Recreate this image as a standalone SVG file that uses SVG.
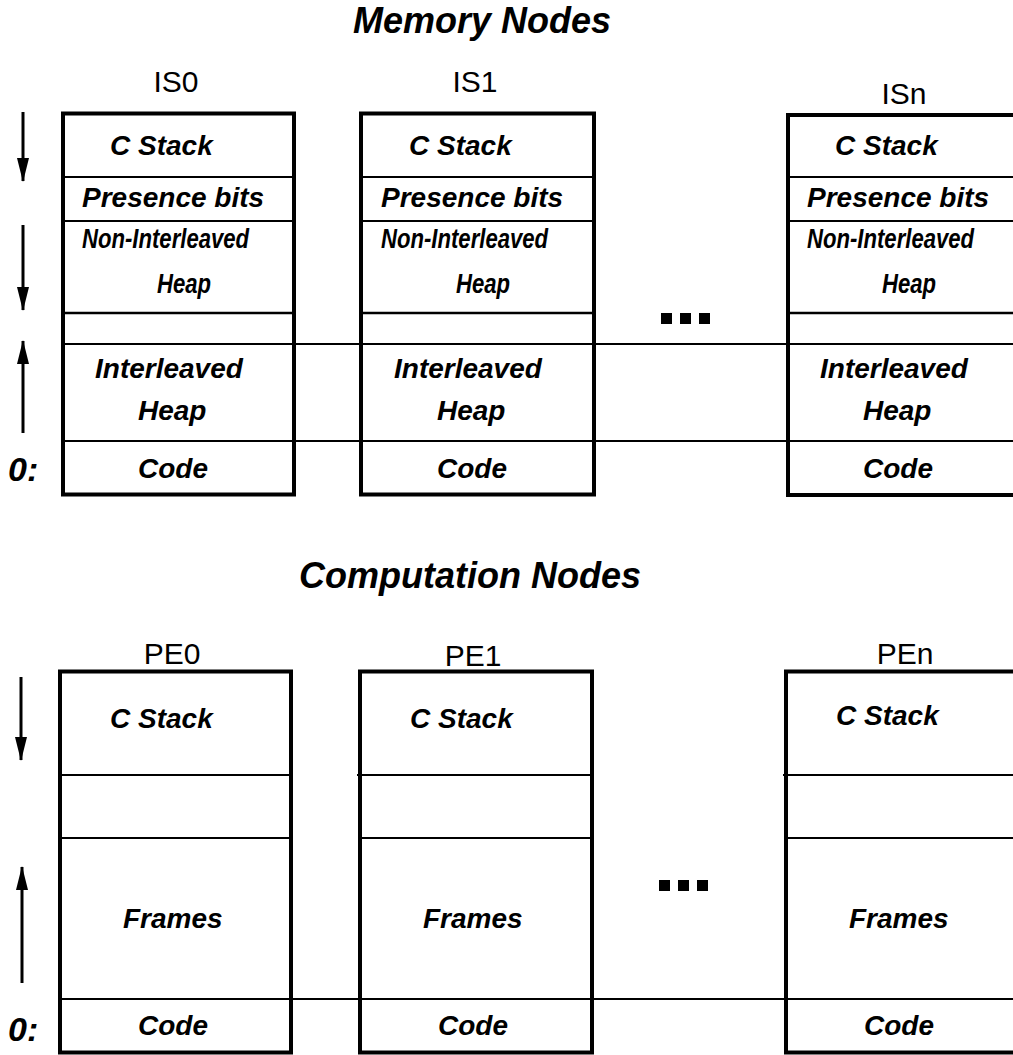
<svg xmlns="http://www.w3.org/2000/svg" width="1013" height="1055" viewBox="0 0 1013 1055">
<defs>
<style>
.box{fill:none;stroke:#000;stroke-width:4}
.ln{stroke:#000;stroke-width:2;fill:none}
.ln3{stroke:#000;stroke-width:2.5;fill:none}
.t{font-family:"Liberation Sans",Arial,sans-serif;font-weight:bold;font-style:italic;font-size:28px;fill:#000}
.title{font-family:"Liberation Sans",Arial,sans-serif;font-weight:bold;font-style:italic;font-size:36px;fill:#000}
.lbl{font-family:"Liberation Sans",Arial,sans-serif;font-size:30px;fill:#000;text-anchor:middle}
.zero{font-family:"Liberation Sans",Arial,sans-serif;font-weight:bold;font-style:italic;font-size:34px;fill:#000}
.arr{stroke:#000;stroke-width:3;fill:none;marker-end:url(#ah)}
.dot{fill:#000}
</style>
<marker id="ah" viewBox="0 0 24 12" refX="23" refY="6" markerWidth="24" markerHeight="12" markerUnits="userSpaceOnUse" orient="auto">
<path d="M0,0 L24,6 L0,12 z" fill="#000"/>
</marker>
</defs>
<rect width="1013" height="1055" fill="#fff"/>

<text class="title" x="482" y="33" text-anchor="middle">Memory Nodes</text>
<text class="title" x="470" y="588" text-anchor="middle">Computation Nodes</text>

<text class="lbl" x="176" y="92">IS0</text>
<text class="lbl" x="475" y="92">IS1</text>
<text class="lbl" x="904" y="104">ISn</text>
<text class="lbl" x="172" y="664">PE0</text>
<text class="lbl" x="473" y="666">PE1</text>
<text class="lbl" x="905" y="664">PEn</text>

<text class="zero" x="8" y="481">0:</text>
<text class="zero" x="8" y="1041">0:</text>

<g id="guides">
<line class="ln" x1="61" y1="344" x2="1013" y2="344"/>
<line class="ln" x1="61" y1="441" x2="1013" y2="441"/>
<line class="ln" x1="58" y1="999" x2="1013" y2="999"/>
</g>

<g id="IS0">
<rect class="box" x="63" y="113.5" width="231" height="381"/>
<line class="ln" x1="63" y1="177" x2="294" y2="177"/>
<line class="ln" x1="63" y1="221" x2="294" y2="221"/>
<line class="ln3" x1="61" y1="313" x2="292" y2="313"/>
<text class="t" x="110" y="155">C Stack</text>
<text class="t" x="82" y="207">Presence bits</text>
<text class="t" transform="translate(82,248) scale(0.79,1)">Non-Interleaved</text>
<text class="t" transform="translate(157,293) scale(0.79,1)">Heap</text>
<text class="t" x="95" y="378">Interleaved</text>
<text class="t" x="138" y="420">Heap</text>
<text class="t" x="138" y="478">Code</text>
</g>

<g id="IS1">
<rect class="box" x="361" y="113.5" width="233" height="381"/>
<line class="ln" x1="361" y1="177" x2="594" y2="177"/>
<line class="ln" x1="361" y1="221" x2="594" y2="221"/>
<line class="ln3" x1="361" y1="313" x2="592" y2="313"/>
<text class="t" x="409" y="155">C Stack</text>
<text class="t" x="381" y="207">Presence bits</text>
<text class="t" transform="translate(381,248) scale(0.79,1)">Non-Interleaved</text>
<text class="t" transform="translate(456,293) scale(0.79,1)">Heap</text>
<text class="t" x="394" y="378">Interleaved</text>
<text class="t" x="437" y="420">Heap</text>
<text class="t" x="437" y="478">Code</text>
</g>

<g id="ISn">
<rect class="box" x="788" y="115" width="240" height="380"/>
<line class="ln" x1="788" y1="177" x2="1013" y2="177"/>
<line class="ln" x1="788" y1="221" x2="1013" y2="221"/>
<line class="ln3" x1="788" y1="313" x2="1013" y2="313"/>
<text class="t" x="835" y="155">C Stack</text>
<text class="t" x="807" y="207">Presence bits</text>
<text class="t" transform="translate(807,248) scale(0.79,1)">Non-Interleaved</text>
<text class="t" transform="translate(882,293) scale(0.79,1)">Heap</text>
<text class="t" x="820" y="378">Interleaved</text>
<text class="t" x="863" y="420">Heap</text>
<text class="t" x="863" y="478">Code</text>
</g>

<g id="dots-top">
<rect class="dot" x="661" y="313" width="11" height="11"/>
<rect class="dot" x="680" y="313" width="11" height="11"/>
<rect class="dot" x="699" y="313" width="11" height="11"/>
</g>

<g id="PE0">
<rect class="box" x="60" y="671.5" width="231" height="381"/>
<line class="ln" x1="60" y1="775" x2="291" y2="775"/>
<line class="ln" x1="60" y1="838" x2="293" y2="838"/>
<text class="t" x="110" y="728">C Stack</text>
<text class="t" x="123" y="928">Frames</text>
<text class="t" x="138" y="1035">Code</text>
</g>

<g id="PE1">
<rect class="box" x="360" y="671.5" width="232" height="381"/>
<line class="ln" x1="357" y1="775" x2="592" y2="775"/>
<line class="ln" x1="360" y1="838" x2="592" y2="838"/>
<text class="t" x="410" y="728">C Stack</text>
<text class="t" x="423" y="928">Frames</text>
<text class="t" x="438" y="1035">Code</text>
</g>

<g id="PEn">
<rect class="box" x="786" y="671.5" width="240" height="381"/>
<line class="ln" x1="783" y1="775" x2="1013" y2="775"/>
<line class="ln" x1="786" y1="838" x2="1013" y2="838"/>
<text class="t" x="836" y="725">C Stack</text>
<text class="t" x="849" y="928">Frames</text>
<text class="t" x="864" y="1035">Code</text>
</g>

<g id="dots-bottom">
<rect class="dot" x="659" y="880" width="11" height="11"/>
<rect class="dot" x="678" y="880" width="11" height="11"/>
<rect class="dot" x="697" y="880" width="11" height="11"/>
</g>

<g id="connectors">
<line class="arr" x1="23" y1="112" x2="23" y2="181"/>
<line class="arr" x1="23" y1="225" x2="23" y2="310"/>
<line class="arr" x1="23" y1="433" x2="23" y2="341"/>
<line class="arr" x1="21" y1="677" x2="21" y2="760"/>
<line class="arr" x1="22" y1="983" x2="22" y2="867"/>
</g>
</svg>
